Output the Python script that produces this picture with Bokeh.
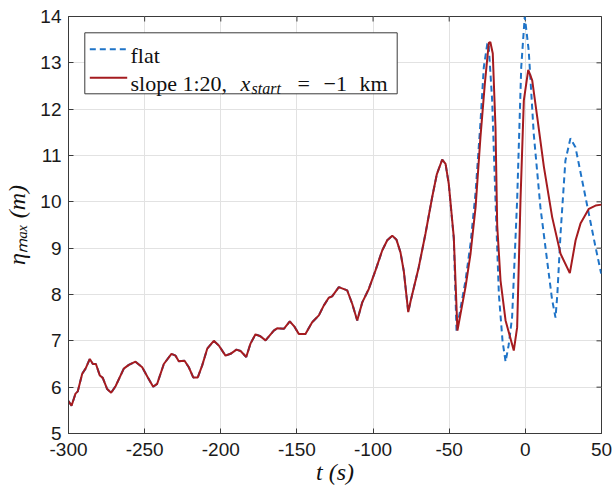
import numpy as np
from bokeh.plotting import figure
from bokeh.models import Range1d, FixedTicker, Label, BoxAnnotation, Arrow
from bokeh.embed import file_html
from bokeh.resources import INLINE

# ---- data ----
# segment where both runs coincide
t_common = [-300, -298, -295.4, -293.9, -291, -288.8, -286, -284, -282, -279.4, -277.5,
            -274.6, -272, -269.1, -263.7, -260.4, -256, -251.6, -247.9, -244.4, -241.8,
            -237.4, -232.4, -229.7, -227.6, -223.8, -221, -218.1, -215.1, -212.2, -208.9,
            -204.6, -201.3, -196.9, -193.6, -189.7, -187, -183.3, -180.5, -177.2, -174,
            -170.6, -165.2, -163, -158.6, -154.7, -151.5, -148.8, -144.4, -140, -135.6,
            -132.4, -129.1, -126.9, -122.5, -117, -113.7, -110.4, -107.1, -102.8, -98.4,
            -94, -90.7, -87.4, -84.6, -82, -79.8, -76.9, -75.4, -70, -65.6, -61.2, -58.1,
            -54.6, -52.4, -50.3]
eta_common = [5.70, 5.60, 5.86, 5.91, 6.29, 6.40, 6.61, 6.50, 6.50, 6.25, 6.20,
              5.96, 5.88, 6.02, 6.40, 6.48, 6.55, 6.43, 6.21, 6.01, 6.07,
              6.50, 6.72, 6.68, 6.56, 6.57, 6.43, 6.21, 6.21, 6.47, 6.83,
              7.00, 6.90, 6.68, 6.72, 6.81, 6.78, 6.65, 6.94, 7.14, 7.10,
              7.01, 7.22, 7.27, 7.26, 7.42, 7.30, 7.15, 7.15, 7.40, 7.55,
              7.76, 7.93, 7.96, 8.16, 8.09, 7.80, 7.44, 7.83, 8.12, 8.52,
              8.95, 9.17, 9.27, 9.18, 8.91, 8.50, 7.62, 7.85, 8.59, 9.31, 10.10, 10.60,
              10.91, 10.82, 10.39]

# slope 1:20 tail
t_slope_tail = [-47, -44.6, -42.6, -39.3, -36, -32.7, -29.5, -26.6, -24, -23, -21.4, -19.6,
                -18.5, -16.3, -13, -7.6, -5.4, -3.2, -1, 1.9, 4.5, 7.8, 12.2, 17.6, 23.1,
                29.2, 33, 36.2, 41.7, 46.1, 50]
eta_slope_tail = [9.24, 7.22, 7.58, 8.16, 8.88, 9.88, 11.39, 12.55, 13.43, 13.45, 13.20, 11.60,
                  9.50, 8.30, 7.44, 6.79, 7.29, 10.03, 12.19, 12.85, 12.62, 11.83, 10.75, 9.67, 8.88,
                  8.46, 9.17, 9.53, 9.85, 9.92, 9.94]

# flat tail
t_flat_tail = [-47, -45.2, -42.6, -39.3, -36, -32.7, -29.5, -27.3, -25, -24.2, -21.8, -19.6,
               -17.4, -15, -13, -11, -8.7, -5.4, -2.7, -0.4, 2.2, 5.5, 9.9, 14.3, 17.5, 19.8,
               21, 23.1, 26.3, 29.6, 32.9, 37.3, 41.7, 46.1, 49.8]
eta_flat_tail = [9.20, 7.21, 7.70, 8.30, 9.10, 10.20, 11.70, 12.90, 13.41, 13.43, 12.19, 10.03,
                 8.01, 7.00, 6.55, 6.90, 7.51, 10.03, 12.91, 14.00, 13.27, 11.47, 9.88, 8.73, 7.90, 7.50,
                 8.00, 9.31, 10.89, 11.37, 11.18, 10.46, 9.74, 9.02, 8.45]

t_slope = t_common + t_slope_tail
eta_slope = eta_common + eta_slope_tail
t_flat = t_common + t_flat_tail
eta_flat = eta_common + eta_flat_tail

x_ticks = [-300, -250, -200, -150, -100, -50, 0, 50]
x_tick_labels = ["-300", "-250", "-200", "-150", "-100", "-50", "0", "50"]
y_ticks = [5, 6, 7, 8, 9, 10, 11, 12, 13, 14]
y_tick_labels = ["5", "6", "7", "8", "9", "10", "11", "12", "13", "14"]
x_lim = (-300, 50)
y_lim = (5, 14)

legend_labels = ["flat", "slope 1:20,"]

BLUE = "#1f74c8"
RED = "#a51b1f"
AX = "#3a3a3a"
SERIF = "Liberation Serif"

p = figure(width=614, height=490, x_range=Range1d(*x_lim), y_range=Range1d(*y_lim),
           output_backend="svg", toolbar_location=None,
           min_border_left=68, min_border_right=13, min_border_top=16, min_border_bottom=57)
p.background_fill_color = "white"
p.border_fill_color = "white"
p.outline_line_color = AX
p.outline_line_width = 1

for ax in (p.xaxis[0], p.yaxis[0]):
    ax.major_tick_in = 5
    ax.major_tick_out = 0
    ax.minor_tick_in = 0
    ax.minor_tick_out = 0
    ax.axis_line_color = AX
    ax.major_tick_line_color = AX
    ax.major_label_text_font = "Liberation Sans"
    ax.major_label_text_font_size = "19px"
    ax.major_label_text_color = "#1a1a1a"
    ax.axis_label_text_font = SERIF
    ax.axis_label_text_font_size = "24px"
    ax.axis_label_text_font_style = "italic"
    ax.axis_label_text_color = "#111111"

p.xaxis[0].ticker = FixedTicker(ticks=x_ticks)
p.xaxis[0].major_label_overrides = dict(zip(x_ticks, x_tick_labels))
p.xaxis[0].major_label_standoff = 9
p.xaxis[0].axis_label = "t (s)"
p.xaxis[0].axis_label_standoff = 0
p.yaxis[0].ticker = FixedTicker(ticks=y_ticks)
p.yaxis[0].major_label_overrides = dict(zip(y_ticks, y_tick_labels))
p.yaxis[0].major_label_standoff = 7
p.yaxis[0].axis_label = "\u03b7\u2098\u2090\u2093 (m)"
p.yaxis[0].axis_label_standoff = 7

p.xgrid.ticker = FixedTicker(ticks=x_ticks)
p.ygrid.ticker = FixedTicker(ticks=y_ticks)
p.grid.grid_line_color = "#e2e2e2"
p.grid.grid_line_width = 1

# inward ticks on the top and right edges (half of each dash is clipped by the frame)
p.scatter(x_ticks, [y_lim[1]] * len(x_ticks), marker="dash", size=10, angle=np.pi / 2,
          line_color=AX, line_width=1)
p.scatter([x_lim[1]] * len(y_ticks), y_ticks, marker="dash", size=10,
          line_color=AX, line_width=1)

p.line(t_flat, eta_flat, line_color=BLUE, line_width=2, line_dash="6 4")
p.line(t_slope, eta_slope, line_color=RED, line_width=2)


def lab(x, y, text, size="22px", style="normal"):
    p.add_layout(Label(x=x, y=y, x_units="screen", y_units="screen", text=text,
                       text_font=SERIF, text_font_size=size, text_font_style=style,
                       text_color="#111111", text_align="left", text_baseline="alphabetic"))


# legend (screen units relative to the frame)
p.add_layout(BoxAnnotation(left=16.3, right=328.7, bottom=339.7, top=400.7,
                           left_units="screen", right_units="screen",
                           bottom_units="screen", top_units="screen",
                           fill_color="white", fill_alpha=1.0,
                           line_color=AX, line_width=1, line_alpha=1.0))
p.add_layout(Arrow(end=None, x_start=21.3, y_start=384.3, x_end=58.7, y_end=384.3,
                   start_units="screen", end_units="screen",
                   line_color=BLUE, line_width=2, line_dash="6 4"))
p.add_layout(Arrow(end=None, x_start=21.3, y_start=355.7, x_end=58.7, y_end=355.7,
                   start_units="screen", end_units="screen",
                   line_color=RED, line_width=2))
lab(62, 378.5, legend_labels[0])
lab(62, 350, legend_labels[1])
lab(172, 350, "x", style="italic")
lab(183, 345.5, "start", size="16px", style="italic")
lab(229, 350, "=")
lab(255, 350, "\u22121")
lab(291, 350, "km")

open("out.html", "w").write(file_html(p, INLINE))
